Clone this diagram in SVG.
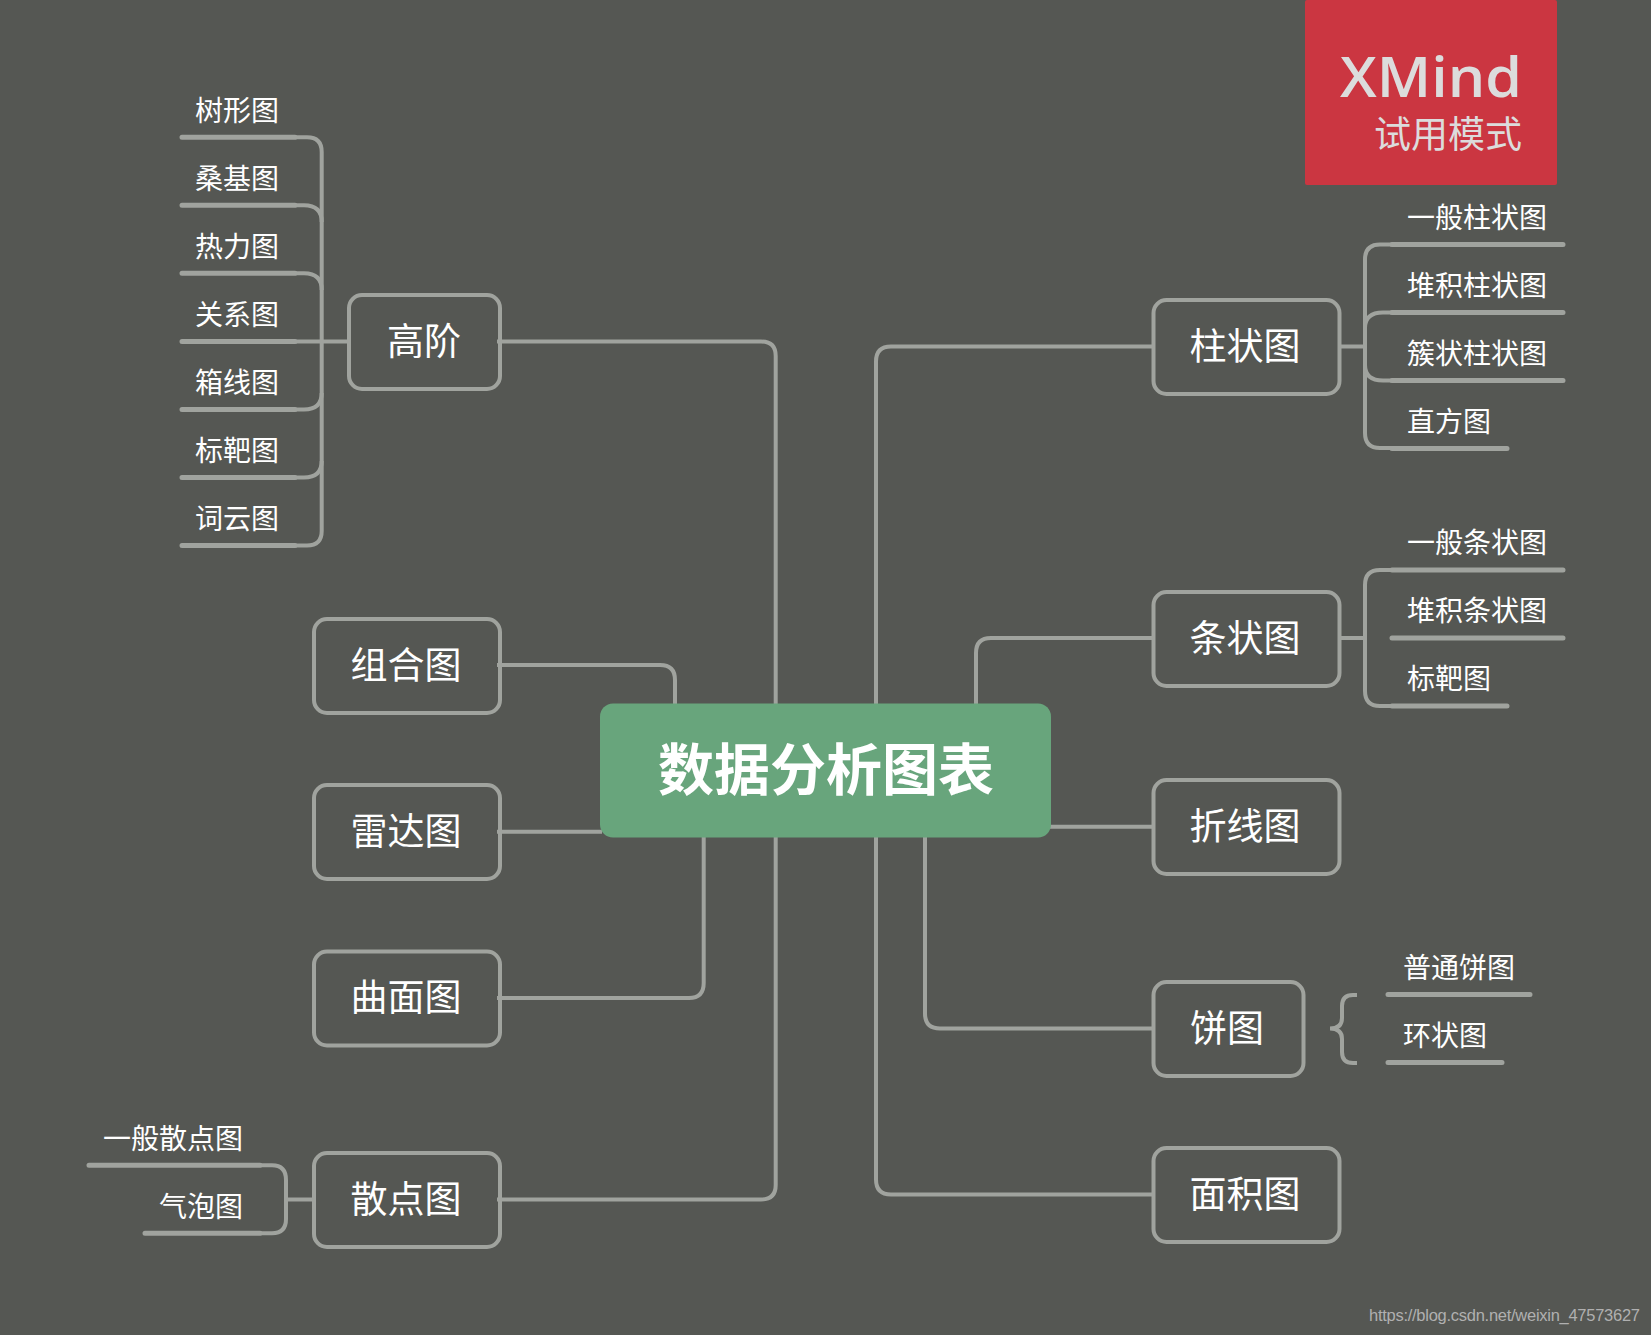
<svg xmlns="http://www.w3.org/2000/svg" width="1651" height="1335" viewBox="0 0 1651 1335">
<style>
text{font-family:"Noto Sans CJK SC","Noto Sans",sans-serif;fill:#fff}
.box{fill:none;stroke:#a0a39e;stroke-width:4}
.c{fill:none;stroke:#a0a39e;stroke-width:4}
.l{fill:none;stroke:#a0a39e;stroke-width:5;stroke-linecap:round}
.n{font-size:37px;text-anchor:middle}
.t{font-size:28px}
.e{text-anchor:end}
</style>
<rect width="1651" height="1335" fill="#555753"/>
<g id="connectors">
<path class="c" d="M497 341.5H761Q775.7 341.5 775.7 356V704"/>
<path class="c" d="M497 665H660Q675 665 675 680V704"/>
<path class="c" d="M497 831.7H602"/>
<path class="c" d="M497 998H689Q703.7 998 703.7 983V836"/>
<path class="c" d="M497 1199.5H761Q775.7 1199.5 775.7 1185V836"/>
<path class="c" d="M1153 346.5H891Q876 346.5 876 361.500V704"/>
<path class="c" d="M1153 638H991Q976 638 976 653V704"/>
<path class="c" d="M1050 826.700H1153"/>
<path class="c" d="M1153 1028.500H940Q925 1028.500 925 1013.500V836"/>
<path class="c" d="M1153 1194.500H891Q876 1194.500 876 1179.500V836"/>
<path class="c" d="M1338 346.500H1365"/>
<path class="c" d="M1392 244.500H1380Q1365 244.500 1365 259.500V433Q1365 448 1380 448H1392"/>
<path class="c" d="M1392 312.500H1383Q1365 312.500 1365 328"/>
<path class="c" d="M1392 380.500H1383Q1365 380.500 1365 365"/>
<path class="c" d="M1338 638H1365"/>
<path class="c" d="M1392 570H1380Q1365 570 1365 585V691Q1365 706 1380 706H1392"/>
<path class="c" d="M349 341.500H295"/>
<path class="c" d="M295 137.300H307Q321.700 137.300 321.700 152V531Q321.700 545.500 307 545.500H295"/>
<path class="c" d="M295 205.300H304Q321.700 205.300 321.700 222"/>
<path class="c" d="M295 273.300H304Q321.700 273.300 321.700 290"/>
<path class="c" d="M295 409.500H304Q321.700 409.500 321.700 393"/>
<path class="c" d="M295 477.500H304Q321.700 477.500 321.700 461"/>
<path class="c" d="M260 1165.300H272Q286 1165.300 286 1180V1219Q286 1233.300 272 1233.300H260"/>
<path class="c" d="M286 1199.500H313"/>
<path class="c" d="M1357 995H1353Q1342 995 1342 1006V1018Q1342 1028.500 1330 1028.500Q1342 1028.500 1342 1039V1052Q1342 1063 1353 1063H1357"/>
<path class="l" d="M1392 244.500H1563M1392 312.500H1563M1392 380.500H1563M1392 448.500H1507"/>
<path class="l" d="M1392 570H1563M1392 638H1563M1392 706H1507"/>
<path class="l" d="M1388 994.500H1530M1388 1062.500H1502"/>
<path class="l" d="M182 137.300H295M182 205.300H295M182 273.300H295M182 341.500H295M182 409.500H295M182 477.500H295M182 545.500H295"/>
<path class="l" d="M89 1165.300H260M145 1233.300H260"/>
</g>
<g id="watermark-xmind">
<rect x="1305" y="0" width="252" height="185" rx="2" fill="#cb3641"/>
<text x="1340" y="97" font-size="56" font-weight="600" textLength="182" lengthAdjust="spacingAndGlyphs" style="font-family:'Open Sans',sans-serif;fill:#dcdcdc">XMind</text>
<text x="1374" y="148" font-size="37" style="fill:#dcdcdc">试用模式</text>
</g>
<g id="root">
<rect x="600" y="703.500" width="451" height="134" rx="13" fill="#68a57c"/>
<text x="826" y="790" font-size="56" font-weight="700" text-anchor="middle">数据分析图表</text>
</g>
<g id="n-gaojie"><rect class="box" x="349" y="295" width="151" height="94" rx="13"/><text class="n" x="424" y="355">高阶</text></g>
<g id="n-zuhe"><rect class="box" x="314" y="619" width="186" height="94" rx="13"/><text class="n" x="406" y="679">组合图</text></g>
<g id="n-leida"><rect class="box" x="314" y="785" width="186" height="94" rx="13"/><text class="n" x="406" y="845">雷达图</text></g>
<g id="n-qumian"><rect class="box" x="314" y="951.500" width="186" height="94" rx="13"/><text class="n" x="406" y="1011">曲面图</text></g>
<g id="n-sandian"><rect class="box" x="314" y="1153" width="186" height="94" rx="13"/><text class="n" x="406" y="1213">散点图</text></g>
<g id="n-zhuzhuang"><rect class="box" x="1153.500" y="300" width="186" height="94" rx="13"/><text class="n" x="1245" y="360">柱状图</text></g>
<g id="n-tiaozhuang"><rect class="box" x="1153.500" y="592" width="186" height="94" rx="13"/><text class="n" x="1245" y="652">条状图</text></g>
<g id="n-zhexian"><rect class="box" x="1153.500" y="780" width="186" height="94" rx="13"/><text class="n" x="1245" y="840">折线图</text></g>
<g id="n-bing"><rect class="box" x="1153.500" y="982" width="150" height="94" rx="13"/><text class="n" x="1227" y="1042">饼图</text></g>
<g id="n-mianji"><rect class="box" x="1153.500" y="1148" width="186" height="94" rx="13"/><text class="n" x="1245" y="1208">面积图</text></g>
<g id="leaves-gaojie">
<text class="t" x="195" y="121">树形图</text>
<text class="t" x="195" y="189">桑基图</text>
<text class="t" x="195" y="257">热力图</text>
<text class="t" x="195" y="325">关系图</text>
<text class="t" x="195" y="393">箱线图</text>
<text class="t" x="195" y="461">标靶图</text>
<text class="t" x="195" y="529">词云图</text>
</g>
<g id="leaves-zhu">
<text class="t" x="1407" y="228">一般柱状图</text>
<text class="t" x="1407" y="296">堆积柱状图</text>
<text class="t" x="1407" y="364">簇状柱状图</text>
<text class="t" x="1407" y="432">直方图</text>
</g>
<g id="leaves-tiao">
<text class="t" x="1407" y="553">一般条状图</text>
<text class="t" x="1407" y="621">堆积条状图</text>
<text class="t" x="1407" y="689">标靶图</text>
</g>
<g id="leaves-bing">
<text class="t" x="1403" y="978">普通饼图</text>
<text class="t" x="1403" y="1046">环状图</text>
</g>
<g id="leaves-san">
<text class="t e" x="243" y="1149">一般散点图</text>
<text class="t e" x="243" y="1217">气泡图</text>
</g>
<text x="1369" y="1321" font-size="16.500" textLength="271" style="font-family:'Liberation Sans',sans-serif;fill:#b0b0b0">https://blog.csdn.net/weixin_47573627</text>
</svg>
